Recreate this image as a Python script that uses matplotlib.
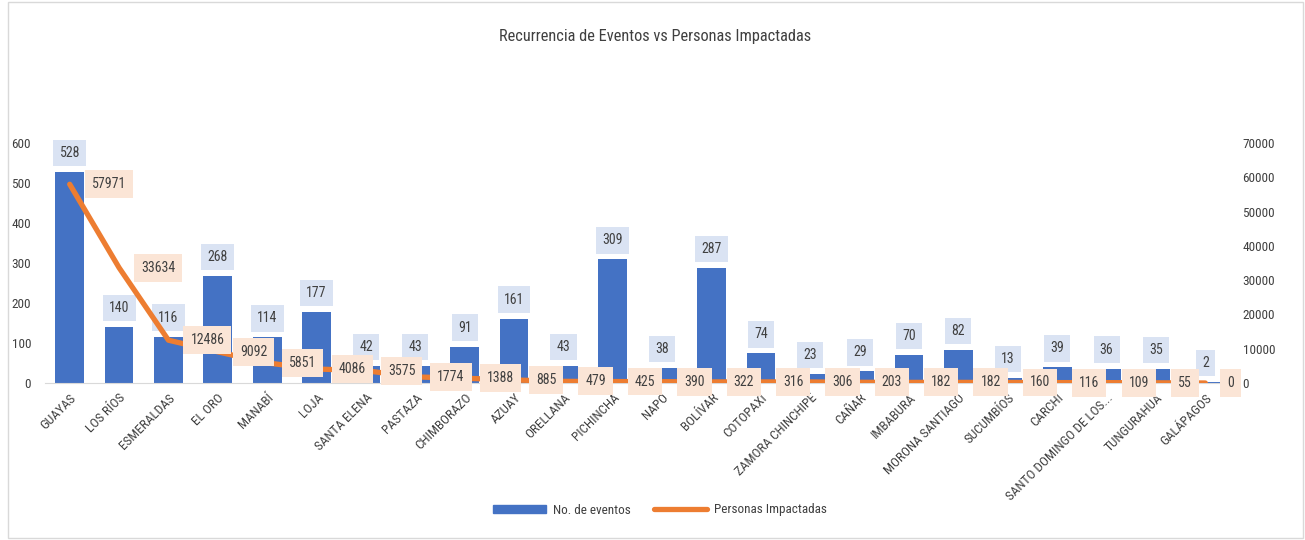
import matplotlib
matplotlib.use("Agg")
import matplotlib.pyplot as plt
from matplotlib import font_manager
from matplotlib.patches import Rectangle, Patch
from matplotlib.lines import Line2D
import numpy as np

categories = ["GUAYAS", "LOS RÍOS", "ESMERALDAS", "EL ORO", "MANABÍ", "LOJA", "SANTA ELENA",
              "PASTAZA", "CHIMBORAZO", "AZUAY", "ORELLANA", "PICHINCHA", "NAPO", "BOLÍVAR",
              "COTOPAXI", "ZAMORA CHINCHIPE", "CAÑAR", "IMBABURA", "MORONA SANTIAGO",
              "SUCUMBÍOS", "CARCHI", "SANTO DOMINGO DE LOS...", "TUNGURAHUA", "GALÁPAGOS"]
eventos = [528, 140, 116, 268, 114, 177, 42, 43, 91, 161, 43, 309, 38, 287, 74, 23, 29, 70,
           82, 13, 39, 36, 35, 2]
personas = [57971, 33634, 12486, 9092, 5851, 4086, 3575, 1774, 1388, 885, 479, 425, 390, 322,
            316, 306, 203, 182, 182, 160, 116, 109, 55, 0]
left_ticks = [0, 100, 200, 300, 400, 500, 600]
right_ticks = [0, 10000, 20000, 30000, 40000, 50000, 60000, 70000]

available = {f.name for f in font_manager.fontManager.ttflist}
fam = ['DejaVu Sans']
for cand in ['Roboto Condensed', 'Liberation Sans Narrow', 'Open Sans Condensed', 'DejaVu Sans Condensed']:
    if cand in available:
        fam = [cand, 'DejaVu Sans']
        break
plt.rcParams['font.family'] = fam

W, H = 1305, 540
fig = plt.figure(figsize=(W / 100, H / 100), dpi=100)
ax = fig.add_axes([45 / W, 1 - 383 / H, (1230 - 45) / W, (383 - 143) / H])
ax2 = ax.twinx()

blue = '#4472C4'
orange = '#ED7D31'
txt = '#404040'
x = np.arange(len(categories))

ax.bar(x, eventos, width=0.58, color=blue, zorder=2)
ax.set_xlim(-0.5, len(categories) - 0.5)
ax.set_ylim(0, 600)
ax.set_yticks(left_ticks)
ax.set_xticks(x)
ax.set_xticklabels(categories, rotation=45, ha='right', rotation_mode='anchor', fontsize=9.5, color=txt)
ax.tick_params(axis='both', length=0, labelsize=9.5, colors=txt)
ax.tick_params(axis='y', pad=10)
ax.tick_params(axis='x', pad=6)
for s in ['top', 'right', 'left']:
    ax.spines[s].set_visible(False)
ax.spines['bottom'].set_color('#D9D9D9')

ax2.set_ylim(0, 70000)
ax2.set_yticks(right_ticks)
ax2.tick_params(axis='y', length=0, labelsize=9.5, colors=txt, pad=9)
for s in ax2.spines.values():
    s.set_visible(False)
ax2.plot(x, personas, color=orange, lw=3.8, solid_capstyle='round', solid_joinstyle='round', zorder=3)

for xi, v in zip(x, eventos):
    ax.annotate(str(v), (xi, v), xytext=(0, 19), textcoords='offset pixels', ha='center', va='center',
                fontsize=10, color=txt, zorder=5,
                bbox=dict(boxstyle='square,pad=0.45', fc='#DAE3F3', ec='none'))

for xi, v in zip(x, personas):
    ax2.annotate(str(v), (xi, v), xytext=(22, 0), textcoords='offset pixels', ha='left', va='center',
                 fontsize=10, color=txt, zorder=6,
                 bbox=dict(boxstyle='square,pad=0.5', fc='#FBE5D6', ec='none'))

fig.text(655 / W, 1 - 37 / H, 'Recurrencia de Eventos vs Personas Impactadas', ha='center', va='center',
         fontsize=11.8, color=txt)

handles = [Patch(color=blue, label='No. de eventos'),
           Line2D([0], [0], color=orange, lw=3.8, solid_capstyle='round', label='Personas Impactadas')]
fig.legend(handles=handles, loc='center', bbox_to_anchor=(660 / W, 1 - 510 / H), ncol=2, frameon=False,
           fontsize=9.5, labelcolor=txt, handlelength=4.0, handleheight=0.6, columnspacing=1.8,
           handletextpad=0.5)

fig.patches.append(Rectangle((8 / W, 2 / H), (W - 10) / W, (H - 4) / H, transform=fig.transFigure,
                             fill=False, ec='#D9D9D9', lw=1))

fig.savefig('out.png', dpi=100)
